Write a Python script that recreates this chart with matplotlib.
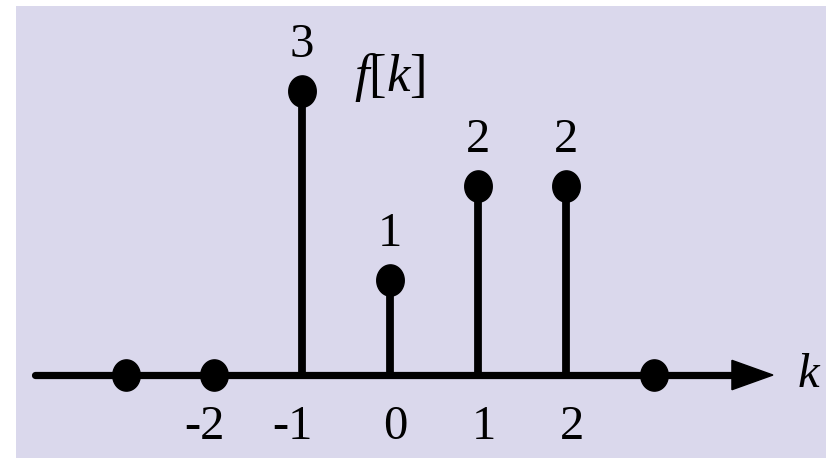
import numpy as np
import matplotlib
matplotlib.use("Agg")
import matplotlib.pyplot as plt
from matplotlib.path import Path
from matplotlib.patches import Polygon

plt.rcParams['font.family'] = ['Liberation Serif', 'DejaVu Serif']
plt.rcParams['mathtext.fontset'] = 'custom'
plt.rcParams['mathtext.rm'] = 'Liberation Serif'
plt.rcParams['mathtext.it'] = 'Liberation Serif:italic'

# discrete sequence f[k]
k_vals = [-3, -2, -1, 0, 1, 2, 3]
f_vals = [0, 0, 3, 1, 2, 2, 0]
tick_labels = ['-2', '-1', '0', '1', '2']
tick_pos = [-2, -1, 0, 1, 2]

bg = '#dad8ec'
fig = plt.figure(figsize=(8.26, 4.58), dpi=100)
fig.patch.set_facecolor('white')
ax = fig.add_axes([16 / 826, 0, 810 / 826, 452 / 458])
ax.set_facecolor(bg)
ax.set_xlim(-4.25, 4.955)
ax.set_ylim(-0.876, 3.896)
for s in ax.spines.values():
    s.set_visible(False)
ax.set_xticks([])
ax.set_yticks([])

# horizontal axis with arrow
ax.plot([-4.03, 3.95], [0, 0], color='black', lw=5.2, solid_capstyle='round', zorder=2)
ax.add_patch(Polygon([[3.886, 0.155], [4.352, 0.0], [3.886, -0.155]],
                     closed=True, color='black', zorder=3))

# slightly tall elliptical dot marker
t = np.linspace(0, 2 * np.pi, 60)
dot = Path(np.column_stack([0.88 * np.cos(t), np.sin(t)]), closed=True)

ax.vlines(k_vals, 0, f_vals, color='black', lw=5.6, zorder=2)
ax.plot(k_vals, f_vals, linestyle='none', marker=dot, markersize=22.5,
        color='black', zorder=4)

for k, v in zip(k_vals, f_vals):
    if v != 0:
        ax.annotate(str(v), (k, v), xytext=(0, 33), textcoords='offset points',
                    ha='center', va='center', fontsize=35)

for k, lab in zip(tick_pos, tick_labels):
    dx = -7 if lab.startswith('-') else 4
    ax.annotate(lab, (k, -0.55), xytext=(dx, 0), textcoords='offset points',
                ha='center', va='center', fontsize=35)

ax.text(0.0, 3.14, r'$f[k]$', ha='center', va='center', fontsize=38)
ax.text(4.63, 0.0, r'$k$', ha='left', va='center', fontsize=35)

fig.savefig('out.png', dpi=100, facecolor='white')
